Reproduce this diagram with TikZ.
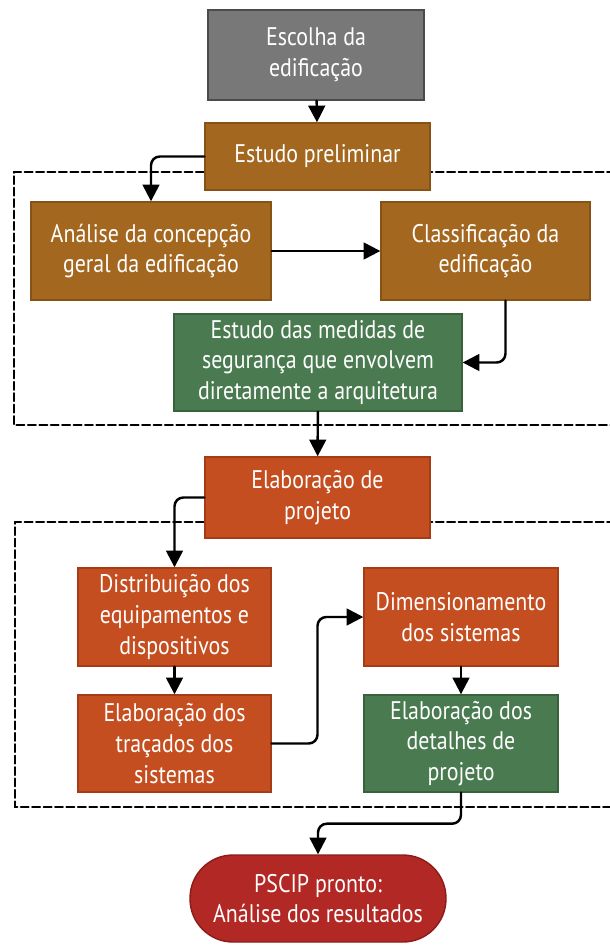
\documentclass[tikz,border=0pt]{standalone}
\usepackage{fontspec}
\setmainfont{PT Sans}[FakeStretch=0.86]
\usepackage{tikz}
\usetikzlibrary{arrows.meta}
\usetikzlibrary{calc}
\usetikzlibrary{shapes,positioning}
\definecolor{cinza}{RGB}{120,120,120}
\definecolor{cinzaesc}{RGB}{75,75,75}
\definecolor{marrom}{RGB}{163,103,32}
\definecolor{marromesc}{RGB}{135,82,22}
\definecolor{laranja}{RGB}{196,78,32}
\definecolor{laranjaesc}{RGB}{165,60,22}
\definecolor{verde}{RGB}{74,122,80}
\definecolor{verdeesc}{RGB}{55,98,60}
\definecolor{vermelho}{RGB}{178,40,36}
\definecolor{vermelhoesc}{RGB}{140,28,25}
\tikzset{>={Triangle[length=9.5pt,width=9.5pt]},
  caixa/.style={draw,line width=0.8pt,text=white,align=center,
    font=\fontsize{14.5}{17.5}\selectfont,inner sep=2pt},
  seta/.style={->,line width=1.4pt,rounded corners=5pt},
  tracejado/.style={line width=1.2pt,dash pattern=on 4.5pt off 2pt}}

\begin{document}
\begin{tikzpicture}[x=0.02cm,y=-0.02cm,line cap=round]

  \useasboundingbox (0,0) rectangle (609,947);

  \draw [tracejado] (615,172) -- (14,172) -- (14,425) -- (615,425);
  \draw [tracejado] (615,522) -- (15,522) -- (15,807) -- (615,807);



  \node [caixa,fill=cinza,draw=cinzaesc,minimum width=4.32cm,minimum height=1.8cm] (escolha) at (316,55) {Escolha da\\edificação};
  \node [caixa,fill=marrom,draw=marromesc,minimum width=4.5cm,minimum height=1.34cm] (preliminar) at (317.5,156.5) {Estudo preliminar};

  \node [caixa,fill=marrom,draw=marromesc,minimum width=4.8cm,minimum height=1.96cm] (analise) at (151,251) {Análise da concepção\\geral da edificação};
  \node [caixa,fill=marrom,draw=marromesc,minimum width=4.18cm,minimum height=1.96cm] (classif) at (485.5,251) {Classificação da\\edificação};
  \node [caixa,fill=verde,draw=verdeesc,minimum width=5.76cm,minimum height=1.94cm] (medidas) at (318,362.5) {Estudo das medidas de\\segurança que envolvem\\diretamente a arquitetura};

  \node [caixa,fill=laranja,draw=laranjaesc,minimum width=4.5cm,minimum height=1.62cm] (elabproj) at (317.5,497.5) {Elaboração de\\projeto};

  \node [caixa,fill=laranja,draw=laranjaesc,minimum width=3.86cm,minimum height=1.96cm] (distrib) at (174.5,617) {Distribuição dos\\equipamentos e\\dispositivos};
  \node [caixa,fill=laranja,draw=laranjaesc,minimum width=3.88cm,minimum height=1.96cm] (dimens) at (461,617) {Dimensionamento\\dos sistemas};
  \node [caixa,fill=laranja,draw=laranjaesc,minimum width=3.86cm,minimum height=1.94cm] (tracados) at (174.5,743.5) {Elaboração dos\\traçados dos\\sistemas};
  \node [caixa,fill=verde,draw=verdeesc,minimum width=3.88cm,minimum height=1.94cm] (detalhes) at (461,743.5) {Elaboração dos\\detalhes de\\projeto};

  \node [caixa,fill=vermelho,draw=vermelhoesc,minimum width=5.12cm,minimum height=1.74cm,rounded corners=0.86cm] (pscip) at (318,898.5) {PSCIP pronto:\\Análise dos resultados};



  \draw [seta] (escolha) -- (preliminar);
  \draw [seta] (preliminar.west) -| (analise.north);
  \draw [seta] (analise) -- (classif);
  \draw [seta] ([xshift=0.4cm]classif.south) |- (medidas.east);
  \draw [seta] (medidas) -- (elabproj);

  \draw [seta] (elabproj.west) -| (distrib.north);
  \draw [seta] (distrib) -- (tracados);
  \draw [seta] (tracados.east) -| ($(tracados.east)!0.5!(dimens.west)$) |- (dimens.west);
  \draw [seta] (dimens) -- (detalhes);
  \draw [seta] (detalhes.south) -- ++(0,31) -| (pscip.north);

\end{tikzpicture}
\end{document}
